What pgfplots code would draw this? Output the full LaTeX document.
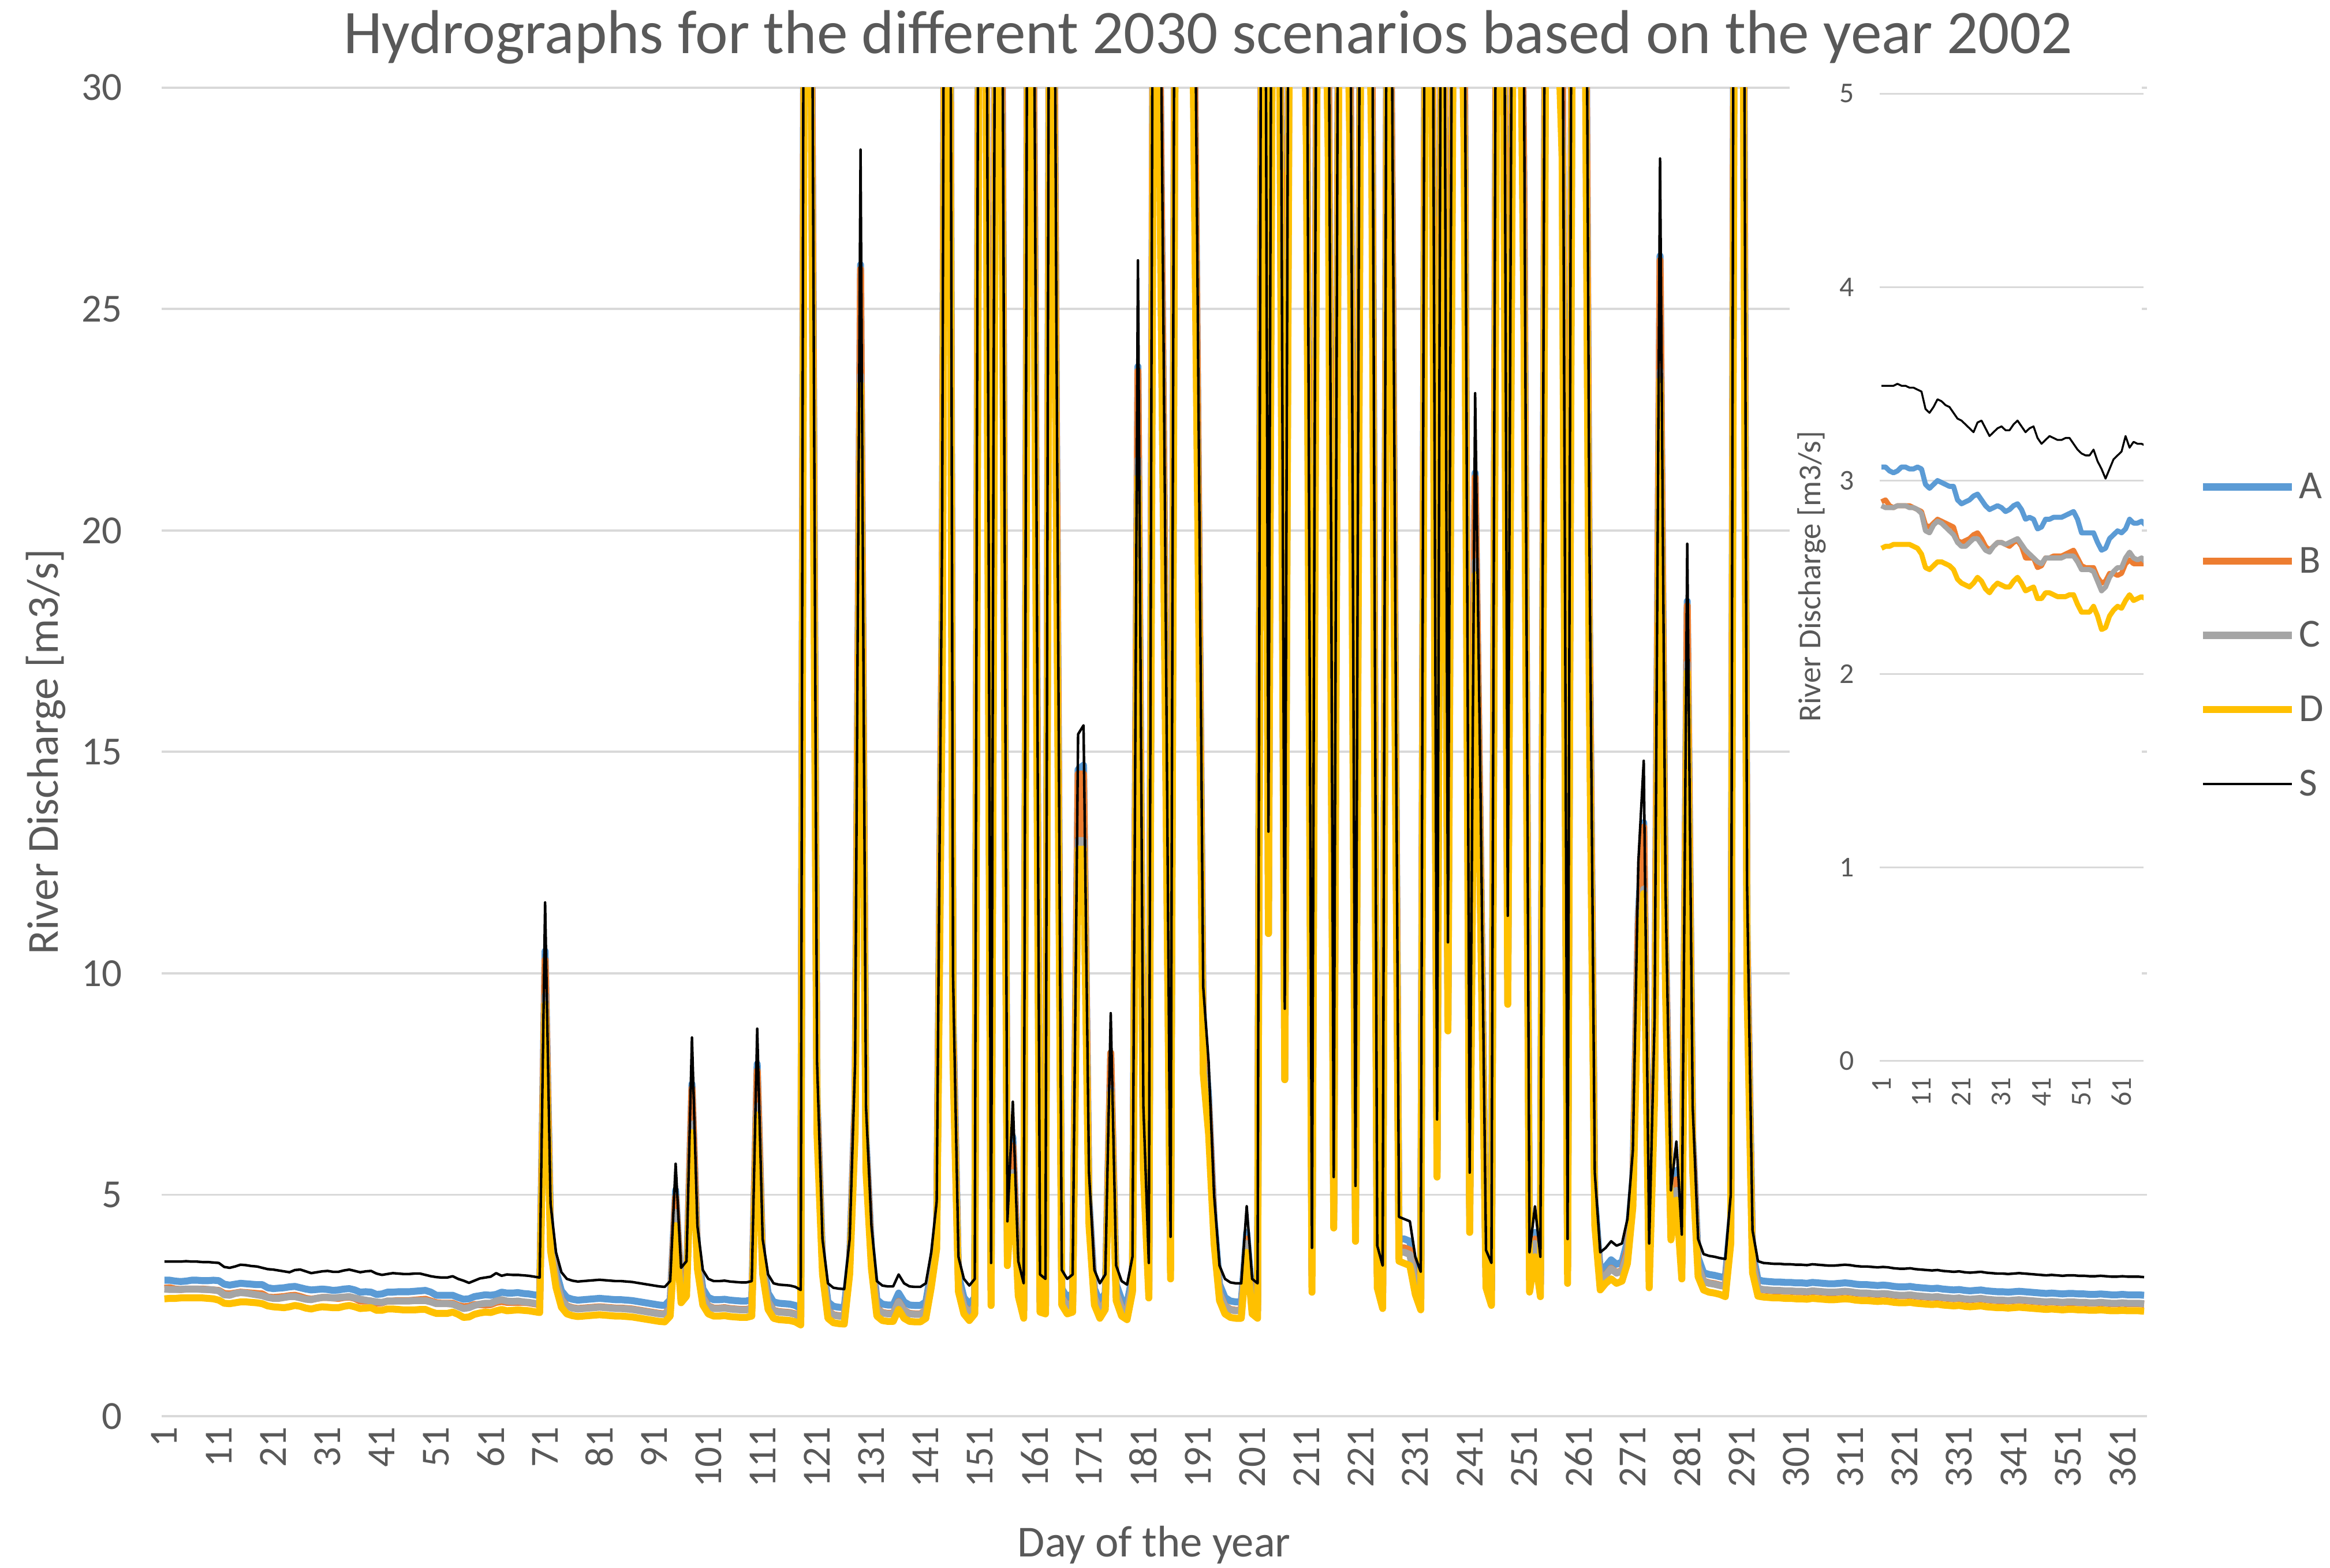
\documentclass[border=0pt]{standalone}
\usepackage{pgfplots}
\pgfplotsset{compat=1.18}
\usepackage{pgfplotstable}
\usepackage{fontspec}
\setmainfont{Carlito}
\definecolor{cA}{HTML}{5B9BD5}
\definecolor{cB}{HTML}{ED7D31}
\definecolor{cC}{HTML}{A5A5A5}
\definecolor{cD}{HTML}{FFC000}
\definecolor{txt}{HTML}{595959}
\definecolor{gridc}{HTML}{D9D9D9}
\pgfplotstableread{
day S A B C D
1 3.49 3.07 2.89 2.87 2.65
2 3.49 3.07 2.90 2.86 2.66
3 3.49 3.05 2.87 2.86 2.66
4 3.49 3.04 2.86 2.86 2.67
5 3.50 3.05 2.87 2.87 2.67
6 3.49 3.07 2.87 2.87 2.67
7 3.49 3.07 2.87 2.87 2.67
8 3.48 3.06 2.87 2.86 2.67
9 3.48 3.06 2.86 2.86 2.66
10 3.47 3.07 2.85 2.85 2.65
11 3.46 3.06 2.84 2.83 2.62
12 3.37 2.98 2.77 2.74 2.55
13 3.35 2.96 2.76 2.73 2.54
14 3.38 2.98 2.78 2.77 2.56
15 3.42 3.00 2.80 2.79 2.58
16 3.41 2.99 2.79 2.78 2.58
17 3.39 2.98 2.78 2.76 2.57
18 3.38 2.97 2.77 2.74 2.56
19 3.35 2.97 2.76 2.72 2.54
20 3.32 2.90 2.69 2.68 2.49
21 3.31 2.88 2.68 2.66 2.47
22 3.29 2.89 2.69 2.66 2.46
23 3.27 2.90 2.70 2.68 2.45
24 3.25 2.92 2.72 2.70 2.47
25 3.30 2.93 2.73 2.70 2.50
26 3.31 2.90 2.70 2.67 2.48
27 3.27 2.87 2.66 2.64 2.44
28 3.23 2.85 2.64 2.63 2.42
29 3.25 2.86 2.66 2.66 2.45
30 3.27 2.87 2.68 2.68 2.47
31 3.28 2.86 2.68 2.68 2.46
32 3.26 2.84 2.67 2.67 2.45
33 3.26 2.85 2.66 2.68 2.45
34 3.29 2.87 2.68 2.69 2.48
35 3.31 2.88 2.69 2.70 2.50
36 3.28 2.85 2.66 2.67 2.47
37 3.25 2.80 2.60 2.64 2.43
38 3.27 2.81 2.60 2.62 2.44
39 3.28 2.80 2.60 2.60 2.45
40 3.22 2.75 2.55 2.58 2.39
41 3.19 2.76 2.56 2.57 2.39
42 3.21 2.80 2.60 2.60 2.42
43 3.23 2.80 2.60 2.60 2.42
44 3.22 2.81 2.61 2.60 2.41
45 3.21 2.81 2.61 2.60 2.40
46 3.21 2.81 2.61 2.60 2.40
47 3.22 2.82 2.62 2.61 2.40
48 3.22 2.83 2.63 2.61 2.41
49 3.19 2.84 2.64 2.61 2.41
50 3.16 2.80 2.60 2.58 2.36
51 3.14 2.73 2.56 2.54 2.32
52 3.13 2.73 2.55 2.54 2.32
53 3.13 2.73 2.55 2.54 2.32
54 3.16 2.73 2.55 2.53 2.35
55 3.10 2.68 2.50 2.48 2.30
56 3.06 2.64 2.47 2.43 2.23
57 3.01 2.65 2.48 2.45 2.24
58 3.06 2.70 2.52 2.50 2.30
59 3.11 2.72 2.52 2.53 2.33
60 3.13 2.74 2.51 2.55 2.35
61 3.15 2.73 2.52 2.55 2.34
62 3.23 2.75 2.57 2.60 2.38
63 3.17 2.80 2.59 2.63 2.41
64 3.20 2.78 2.57 2.60 2.38
65 3.19 2.78 2.57 2.59 2.39
66 3.19 2.79 2.57 2.60 2.40
67 3.18 2.77 2.57 2.58 2.39
68 3.17 2.76 2.56 2.57 2.38
69 3.15 2.74 2.54 2.55 2.36
70 3.13 2.72 2.52 2.53 2.34
71 11.6 10.5 10.3 9.5 9.3
72 4.8 4.27 4.07 3.93 3.74
73 3.7 3.28 3.09 3.08 2.91
74 3.25 2.83 2.64 2.63 2.46
75 3.10 2.68 2.49 2.48 2.31
76 3.06 2.64 2.45 2.44 2.27
77 3.04 2.62 2.43 2.42 2.25
78 3.05 2.63 2.44 2.43 2.26
79 3.06 2.64 2.45 2.44 2.27
80 3.07 2.65 2.46 2.45 2.28
81 3.08 2.66 2.47 2.46 2.29
82 3.07 2.65 2.46 2.45 2.28
83 3.06 2.64 2.45 2.44 2.27
84 3.05 2.63 2.44 2.43 2.26
85 3.05 2.63 2.44 2.43 2.26
86 3.04 2.62 2.43 2.42 2.25
87 3.03 2.61 2.42 2.41 2.24
88 3.01 2.59 2.40 2.39 2.22
89 2.99 2.57 2.38 2.37 2.20
90 2.97 2.55 2.36 2.35 2.18
91 2.95 2.53 2.34 2.33 2.16
92 2.93 2.51 2.32 2.31 2.14
93 2.92 2.50 2.31 2.30 2.13
94 3.05 2.63 2.44 2.43 2.26
95 5.7 5.1 4.95 4.6 4.3
96 3.35 2.93 2.74 2.73 2.56
97 3.5 3.08 2.89 2.88 2.71
98 8.55 7.5 7.4 6.6 6.4
99 4.3 3.81 3.61 3.52 3.33
100 3.3 2.88 2.69 2.68 2.51
101 3.1 2.68 2.49 2.48 2.31
102 3.05 2.63 2.44 2.43 2.26
103 3.05 2.63 2.44 2.43 2.26
104 3.06 2.64 2.45 2.44 2.27
105 3.04 2.62 2.43 2.42 2.25
106 3.03 2.61 2.42 2.41 2.24
107 3.02 2.60 2.41 2.40 2.23
108 3.02 2.60 2.41 2.40 2.23
109 3.05 2.63 2.44 2.43 2.26
110 8.75 7.95 7.8 7.0 6.8
111 4.0 3.58 3.39 3.38 3.21
112 3.2 2.78 2.59 2.58 2.41
113 3.0 2.58 2.39 2.38 2.21
114 2.97 2.55 2.36 2.35 2.18
115 2.96 2.54 2.35 2.34 2.17
116 2.95 2.53 2.34 2.33 2.16
117 2.92 2.50 2.31 2.30 2.13
118 2.85 2.43 2.24 2.23 2.06
119 60 55 54 49 48
120 35 32 31.5 28.7 28.4
121 8 7.2 6.98 6.59 6.36
122 4.0 3.58 3.39 3.38 3.21
123 3.0 2.58 2.39 2.38 2.21
124 2.9 2.48 2.29 2.28 2.11
125 2.88 2.46 2.27 2.26 2.09
126 2.87 2.45 2.26 2.25 2.08
127 4.0 3.58 3.39 3.38 3.21
128 8.0 7.2 6.98 6.59 6.36
129 28.6 26.0 25.9 23.5 23.3
130 7.0 6.29 6.07 5.76 5.54
131 4.3 3.81 3.61 3.52 3.33
132 3.05 2.63 2.44 2.43 2.26
133 2.95 2.53 2.34 2.33 2.16
134 2.93 2.51 2.32 2.31 2.14
135 2.93 2.51 2.32 2.31 2.14
136 3.2 2.78 2.59 2.58 2.41
137 3.0 2.58 2.39 2.38 2.21
138 2.93 2.51 2.32 2.31 2.14
139 2.92 2.50 2.31 2.30 2.13
140 2.92 2.50 2.31 2.30 2.13
141 3.0 2.58 2.39 2.38 2.21
142 3.7 3.28 3.09 3.08 2.91
143 4.85 4.32 4.11 3.98 3.78
144 20 18.2 17.9 16.55 16.2
145 60 55 54 49 48
146 10 9.03 8.8 8.25 8.0
147 3.6 3.18 2.99 2.98 2.81
148 3.1 2.68 2.49 2.48 2.31
149 2.95 2.53 2.34 2.33 2.16
150 3.1 2.68 2.49 2.48 2.31
151 50 45.5 45 41 40.5
152 40 36.4 36 32.8 32.4
153 3.46 3.04 2.85 2.84 2.5
154 45 41 40.5 37 36.5
155 35 32 31.5 28.7 28.4
156 4.4 3.9 3.7 3.6 3.4
157 7.1 6.3 6.1 5.5 5.4
158 3.5 3.08 2.89 2.88 2.71
159 3.0 2.58 2.39 2.38 2.21
160 50 45.5 45 41 40.5
161 30 27.3 27 24.6 24.3
162 3.2 2.78 2.59 2.58 2.35
163 3.1 2.68 2.49 2.48 2.31
164 50 45.5 45 41 40.5
165 25 22.75 22.45 20.7 20.3
166 3.3 2.88 2.69 2.68 2.51
167 3.1 2.68 2.49 2.48 2.31
168 3.2 2.78 2.59 2.58 2.35
169 15.4 14.6 14.5 13.0 12.8
170 15.6 14.7 14.5 13.0 12.8
171 5.5 4.91 4.7 4.52 4.31
172 3.3 2.88 2.69 2.68 2.51
173 3.0 2.58 2.39 2.38 2.21
174 3.2 2.78 2.59 2.58 2.41
175 9.1 8.2 8.2 7.4 7.3
176 3.4 2.98 2.79 2.78 2.61
177 3.05 2.63 2.44 2.43 2.26
178 2.97 2.55 2.36 2.35 2.18
179 3.6 3.18 2.99 2.98 2.81
180 26.1 23.7 23.6 21.6 21.2
181 7.0 6.29 6.07 5.76 5.54
182 3.46 3.04 2.85 2.84 2.67
183 45 41 40.5 37 36.5
184 35 32 31.5 28.7 28.4
185 20 18.2 17.9 16.55 16.2
186 4.05 3.6 3.4 3.3 3.1
187 45 41 40.5 37 36.5
188 50 45.5 45 41 40.5
189 45 41 40.5 37 36.5
190 40 36.4 36 32.8 32.4
191 25 22.75 22.45 20.7 20.3
192 9.7 8.76 8.53 8.0 7.75
193 8.0 7.2 6.98 6.59 6.36
194 5.0 4.46 4.25 4.10 3.9
195 3.4 2.98 2.79 2.78 2.61
196 3.1 2.68 2.49 2.48 2.31
197 3.02 2.60 2.41 2.40 2.23
198 3.0 2.58 2.39 2.38 2.21
199 3.0 2.58 2.39 2.38 2.21
200 4.74 4.15 4.0 3.9 3.7
201 3.1 2.68 2.49 2.48 2.31
202 3.0 2.58 2.39 2.38 2.21
203 50 45.5 45 41 40.5
204 13.2 11.96 11.7 10.9 10.9
205 50 45.5 45 41 40.5
206 40 36.4 36 32.8 32.4
207 9.2 8.3 8.07 7.6 7.6
208 45 41 40.5 37 36.5
209 40 36.4 36 32.8 32.4
210 45 41 40.5 37 36.5
211 35 32 31.5 28.7 28.4
212 3.8 3.38 3.19 3.18 2.8
213 40 36.4 36 32.8 32.4
214 45 41 40.5 37 36.5
215 35 32 31.5 28.7 28.4
216 5.4 4.82 4.61 4.43 4.25
217 40 36.4 36 32.8 32.4
218 45 41 40.5 37 36.5
219 35 32 31.5 28.7 28.4
220 5.2 4.64 4.43 4.27 3.95
221 40 36.4 36 32.8 32.4
222 45 41 40.5 37 36.5
223 35 32 31.5 28.7 28.4
224 3.85 3.43 3.24 3.23 2.9
225 3.4 2.98 2.79 2.78 2.43
226 45 41 40.5 37 36.5
227 25 22.75 22.45 20.7 20.3
228 4.5 4.0 3.8 3.7 3.5
229 4.45 4.0 3.8 3.7 3.45
230 4.4 3.95 3.75 3.65 3.4
231 3.6 3.18 2.99 2.98 2.75
232 3.26 2.84 2.65 2.64 2.4
233 45 41 40.5 37 36.5
234 40 36.4 36 32.8 32.4
235 6.7 6.01 5.8 5.51 5.4
236 45 41 40.5 37 36.5
237 10.7 9.67 9.44 8.83 8.7
238 40 36.4 36 32.8 32.4
239 45 41 40.5 37 36.5
240 35 32 31.5 28.7 28.4
241 5.5 4.91 4.7 4.52 4.15
242 23.1 21.3 21.2 19.3 19.0
243 14 12.69 12.44 11.57 11.28
244 3.75 3.33 3.14 3.13 2.9
245 3.46 3.04 2.85 2.84 2.5
246 40 36.4 36 32.8 32.4
247 45 41 40.5 37 36.5
248 11.3 10.22 9.98 9.33 9.3
249 40 36.4 36 32.8 32.4
250 45 41 40.5 37 36.5
251 30 27.3 27 24.6 24.3
252 3.7 3.28 3.09 3.08 2.8
253 4.74 4.15 4.0 3.9 3.6
254 3.6 3.18 2.99 2.98 2.7
255 40 36.4 36 32.8 32.4
256 45 41 40.5 37 36.5
257 40 36.4 36 32.8 32.4
258 35 32 31.5 28.7 28.4
259 4.0 3.58 3.39 3.38 3.0
260 45 41 40.5 37 36.5
261 40 36.4 36 32.8 32.4
262 45 41 40.5 37 36.5
263 20 18.2 17.9 16.55 16.2
264 5.5 4.91 4.7 4.52 4.31
265 3.7 3.3 3.09 3.08 2.85
266 3.8 3.38 3.19 3.18 3.0
267 3.95 3.53 3.34 3.33 3.1
268 3.85 3.43 3.24 3.23 3.0
269 3.9 3.48 3.29 3.28 3.05
270 4.45 3.95 3.75 3.65 3.45
271 6.0 5.37 5.16 4.93 4.72
272 12.5 11.32 11.08 10.33 10.05
273 14.8 13.4 13.3 11.9 11.8
274 3.9 3.48 3.29 3.28 2.9
275 9.0 8.12 7.89 7.42 7.18
276 28.4 26.2 26.1 23.6 23.4
277 12 10.86 10.62 9.91 9.64
278 5.1 4.55 4.34 4.18 3.98
279 6.2 5.55 5.34 5.1 4.88
280 4.1 3.63 3.43 3.35 3.1
281 19.7 18.4 18.3 17.0 16.8
282 7.0 6.29 6.07 5.76 5.54
283 4.0 3.58 3.39 3.38 3.15
284 3.66 3.24 3.05 3.04 2.85
285 3.62 3.20 3.01 3.00 2.8
286 3.6 3.18 2.99 2.98 2.78
287 3.57 3.15 2.96 2.95 2.75
288 3.55 3.13 2.94 2.93 2.7
289 5.0 4.46 4.25 4.1 3.9
290 60 55 54 49 48
291 50 45.5 45 41 40.5
292 12 10.86 10.62 9.91 9.64
293 4.2 3.72 3.52 3.44 3.24
294 3.5 3.08 2.89 2.88 2.71
295 3.46 3.05 2.85 2.86 2.69
296 3.45 3.04 2.84 2.85 2.68
297 3.44 3.03 2.83 2.84 2.67
298 3.44 3.03 2.83 2.84 2.67
299 3.43 3.02 2.82 2.83 2.66
300 3.43 3.02 2.82 2.83 2.66
301 3.42 3.01 2.81 2.82 2.65
302 3.42 3.01 2.81 2.82 2.65
303 3.41 3.00 2.80 2.81 2.64
304 3.43 3.02 2.82 2.83 2.66
305 3.42 3.01 2.81 2.82 2.65
306 3.41 3.00 2.80 2.81 2.64
307 3.40 2.99 2.79 2.80 2.63
308 3.40 2.99 2.79 2.80 2.63
309 3.41 3.00 2.80 2.81 2.64
310 3.42 3.01 2.81 2.82 2.65
311 3.41 3.00 2.80 2.81 2.64
312 3.39 2.98 2.78 2.79 2.62
313 3.38 2.97 2.77 2.78 2.61
314 3.38 2.97 2.77 2.78 2.61
315 3.37 2.96 2.76 2.77 2.60
316 3.36 2.95 2.75 2.76 2.59
317 3.37 2.96 2.76 2.77 2.60
318 3.36 2.95 2.75 2.76 2.59
319 3.34 2.93 2.73 2.74 2.57
320 3.33 2.92 2.72 2.73 2.56
321 3.33 2.92 2.72 2.73 2.56
322 3.34 2.93 2.73 2.74 2.57
323 3.32 2.91 2.71 2.72 2.55
324 3.31 2.90 2.70 2.71 2.54
325 3.30 2.89 2.69 2.70 2.53
326 3.29 2.88 2.68 2.69 2.52
327 3.30 2.89 2.69 2.70 2.53
328 3.28 2.87 2.67 2.68 2.51
329 3.27 2.86 2.66 2.67 2.50
330 3.26 2.85 2.65 2.66 2.49
331 3.27 2.86 2.66 2.67 2.50
332 3.25 2.84 2.64 2.65 2.48
333 3.24 2.83 2.63 2.64 2.47
334 3.25 2.84 2.64 2.65 2.48
335 3.26 2.85 2.65 2.66 2.49
336 3.24 2.83 2.63 2.64 2.47
337 3.23 2.82 2.62 2.63 2.46
338 3.22 2.81 2.61 2.62 2.45
339 3.22 2.81 2.61 2.62 2.45
340 3.21 2.80 2.60 2.61 2.44
341 3.22 2.81 2.61 2.62 2.45
342 3.23 2.82 2.62 2.63 2.46
343 3.22 2.81 2.61 2.62 2.45
344 3.21 2.80 2.60 2.61 2.44
345 3.20 2.79 2.59 2.60 2.43
346 3.19 2.78 2.58 2.59 2.42
347 3.18 2.77 2.57 2.58 2.41
348 3.19 2.78 2.58 2.59 2.42
349 3.18 2.77 2.57 2.58 2.41
350 3.17 2.76 2.56 2.57 2.40
351 3.18 2.77 2.57 2.58 2.41
352 3.18 2.77 2.57 2.58 2.41
353 3.17 2.76 2.56 2.57 2.40
354 3.17 2.76 2.56 2.57 2.40
355 3.16 2.75 2.55 2.56 2.39
356 3.16 2.75 2.55 2.56 2.39
357 3.17 2.76 2.56 2.57 2.40
358 3.16 2.75 2.55 2.56 2.39
359 3.15 2.74 2.54 2.55 2.38
360 3.15 2.74 2.54 2.55 2.38
361 3.16 2.75 2.55 2.56 2.39
362 3.15 2.74 2.54 2.55 2.38
363 3.15 2.74 2.54 2.55 2.38
364 3.15 2.74 2.54 2.55 2.38
365 3.14 2.73 2.53 2.54 2.37
}\hydro
\newcommand\fsz[1]{\fontsize{#1}{1.2\dimexpr#1\relax}\selectfont}
\begin{document}
\begin{tikzpicture}[x=1bp,y=1bp]
\useasboundingbox (0,0) rectangle (1568,1055);
\begin{axis}[
  at={(108.8bp,102bp)}, anchor=south west,
  scale only axis, width=1335.9bp, height=894bp,
  xmin=0.5, xmax=365.5, ymin=0, ymax=30,
  xtick={1,11,...,361}, ytick={0,5,...,30},
  axis line style={draw=none}, major tick length=0pt,
  ymajorgrids, grid style={gridc, line width=1.5bp},
  /pgf/number format/assume math mode=true,
  tick label style={font=\fsz{26.8bp}, text=txt, inner sep=0pt},
  yticklabel style={xshift=-26.5bp, anchor=east},
  xticklabel style={yshift=-7bp, rotate=90, anchor=east},
  legend style={draw=none, fill=none, at={(1.0264,0.7099)}, anchor=north west,
    inner sep=0pt, outer sep=0pt, row sep=31.2bp, column sep=2.5bp,
    font=\fsz{26.8bp}, text=txt, nodes={inner sep=0pt}},
  legend cell align=left,
  legend image code/.code={\draw[#1, line cap=butt] (0bp,0bp) -- (60bp,0bp);},
]
\addplot[cA, line width=4.7bp, line join=round] table[x=day,y=A]{\hydro};
\addplot[cB, line width=4.7bp, line join=round] table[x=day,y=B]{\hydro};
\addplot[cC, line width=4.7bp, line join=round] table[x=day,y=C]{\hydro};
\addplot[cD, line width=4.7bp, line join=round] table[x=day,y=D]{\hydro};
\addplot[black, line width=1.7bp, line join=round] table[x=day,y=S]{\hydro};
\legend{A,B,C,D,S}
\end{axis}
\node[anchor=base, font=\fsz{41.7bp}, text=txt] at (813,1019) {Hydrographs for the different 2030 scenarios based on the year 2002};
\node[anchor=base, font=\fsz{29.8bp}, text=txt] at (776.7,7.5) {Day of the year};
\node[anchor=base, rotate=90, font=\fsz{29.8bp}, text=txt] at (39,549) {River Discharge [m3/s]};
\fill[white] (1204.5,285) rectangle (1441.5,1005);
\begin{axis}[
  at={(1264.8bp,341bp)}, anchor=south west,
  scale only axis, width=177.7bp, height=651bp,
  xmin=0.5, xmax=66.5, ymin=0, ymax=5,
  xtick={1,11,...,61}, ytick={0,1,...,5},
  axis line style={draw=none}, major tick length=0pt,
  ymajorgrids, grid style={gridc, line width=1.2bp},
  /pgf/number format/assume math mode=true,
  tick label style={font=\fsz{19.3bp}, text=txt, inner sep=0pt},
  yticklabel style={xshift=-16.9bp, anchor=east},
  xticklabel style={yshift=-11bp, rotate=90, anchor=east},
]
\addplot[cA, line width=3.4bp, line join=round] table[x=day,y=A]{\hydro};
\addplot[cB, line width=3.4bp, line join=round] table[x=day,y=B]{\hydro};
\addplot[cC, line width=3.4bp, line join=round] table[x=day,y=C]{\hydro};
\addplot[cD, line width=3.4bp, line join=round] table[x=day,y=D]{\hydro};
\addplot[black, line width=1.3bp, line join=round] table[x=day,y=S]{\hydro};
\end{axis}
\node[anchor=base, rotate=90, font=\fsz{21.4bp}, text=txt] at (1225,667) {River Discharge [m3/s]};
\end{tikzpicture}
\end{document}
